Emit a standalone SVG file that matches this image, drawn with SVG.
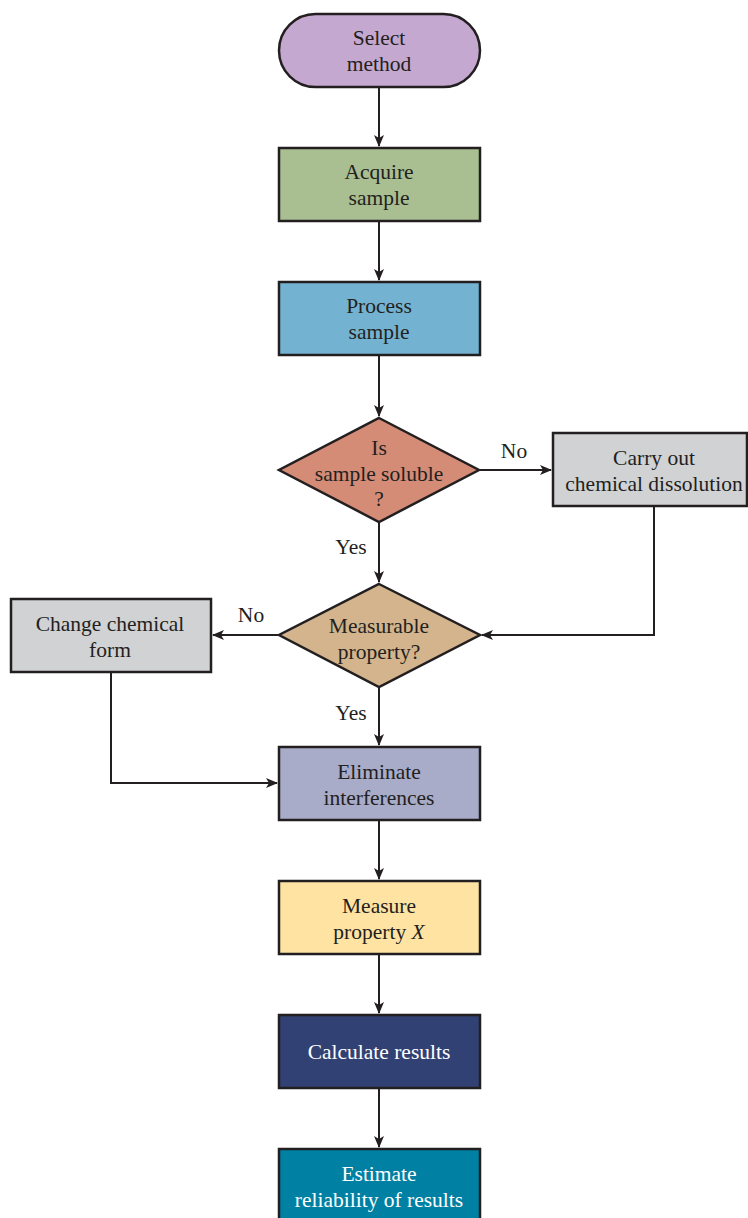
<svg xmlns="http://www.w3.org/2000/svg" width="748" height="1218" viewBox="0 0 748 1218">
<defs>
<marker id="ah" viewBox="0 0 12 10" refX="11" refY="5" markerWidth="12" markerHeight="10" markerUnits="userSpaceOnUse" orient="auto">
<path d="M0,0 L12,5 L0,10 L3,5 Z" fill="#231f20"/>
</marker>
<style>
.n{stroke:#231f20;stroke-width:2.5}
.t{font-family:'Liberation Serif','DejaVu Serif',serif;font-size:21.5px;fill:#231f20;text-anchor:middle}
.w{fill:#ffffff}
.c{fill:none;stroke:#231f20;stroke-width:2}
</style>
</defs>
<rect width="748" height="1218" fill="#ffffff"/>
<g id="connectors">
<path class="c" d="M379,88 V146" marker-end="url(#ah)"/>
<path class="c" d="M379,222 V280" marker-end="url(#ah)"/>
<path class="c" d="M379,356 V416" marker-end="url(#ah)"/>
<path class="c" d="M480,470 H551" marker-end="url(#ah)"/>
<path class="c" d="M379,522 V582" marker-end="url(#ah)"/>
<path class="c" d="M654,507 V635 H482" marker-end="url(#ah)"/>
<path class="c" d="M279,635 H213" marker-end="url(#ah)"/>
<path class="c" d="M111,673 V783 H277" marker-end="url(#ah)"/>
<path class="c" d="M379,688 V745" marker-end="url(#ah)"/>
<path class="c" d="M379,821 V879" marker-end="url(#ah)"/>
<path class="c" d="M379,955 V1013" marker-end="url(#ah)"/>
<path class="c" d="M379,1089 V1147" marker-end="url(#ah)"/>
<text class="t" x="514" y="458">No</text>
<text class="t" x="351" y="554">Yes</text>
<text class="t" x="251" y="622">No</text>
<text class="t" x="351" y="720">Yes</text>
</g>
<g id="select-method">
<rect class="n" x="279" y="14" width="201" height="73" rx="36.5" fill="#c5a8cf"/>
<text class="t" x="379" y="45">Select</text>
<text class="t" x="379" y="71">method</text>
</g>
<g id="acquire-sample">
<rect class="n" x="279" y="148" width="201" height="73" fill="#a9be91"/>
<text class="t" x="379" y="179">Acquire</text>
<text class="t" x="379" y="205">sample</text>
</g>
<g id="process-sample">
<rect class="n" x="279" y="282" width="201" height="73" fill="#73b3d1"/>
<text class="t" x="379" y="313">Process</text>
<text class="t" x="379" y="339">sample</text>
</g>
<g id="is-soluble">
<polygon class="n" points="379,418 479,470 379,522 279,470" fill="#d48c77"/>
<text class="t" x="379" y="455">Is</text>
<text class="t" x="379" y="481">sample soluble</text>
<text class="t" x="379" y="506">?</text>
</g>
<g id="carry-out">
<rect class="n" x="553" y="433" width="194" height="73" fill="#d1d2d4"/>
<text class="t" x="654" y="465">Carry out</text>
<text class="t" x="654" y="491">chemical dissolution</text>
</g>
<g id="measurable">
<polygon class="n" points="379,584 480,635 379,687 279,635" fill="#d3b48d"/>
<text class="t" x="379" y="633">Measurable</text>
<text class="t" x="379" y="659">property?</text>
</g>
<g id="change-form">
<rect class="n" x="11" y="599" width="200" height="73" fill="#d1d2d4"/>
<text class="t" x="110" y="631">Change chemical</text>
<text class="t" x="110" y="657">form</text>
</g>
<g id="eliminate">
<rect class="n" x="279" y="747" width="201" height="73" fill="#a8acc9"/>
<text class="t" x="379" y="779">Eliminate</text>
<text class="t" x="379" y="805">interferences</text>
</g>
<g id="measure">
<rect class="n" x="279" y="881" width="201" height="73" fill="#fee3a3"/>
<text class="t" x="379" y="913">Measure</text>
<text class="t" x="379" y="939">property <tspan font-style="italic">X</tspan></text>
</g>
<g id="calculate">
<rect class="n" x="279" y="1015" width="201" height="73" fill="#324173"/>
<text class="t w" x="379" y="1059">Calculate results</text>
</g>
<g id="estimate">
<rect class="n" x="279" y="1149" width="201" height="80" fill="#0081a3"/>
<text class="t w" x="379" y="1181">Estimate</text>
<text class="t w" x="379" y="1207">reliability of results</text>
</g>
</svg>
